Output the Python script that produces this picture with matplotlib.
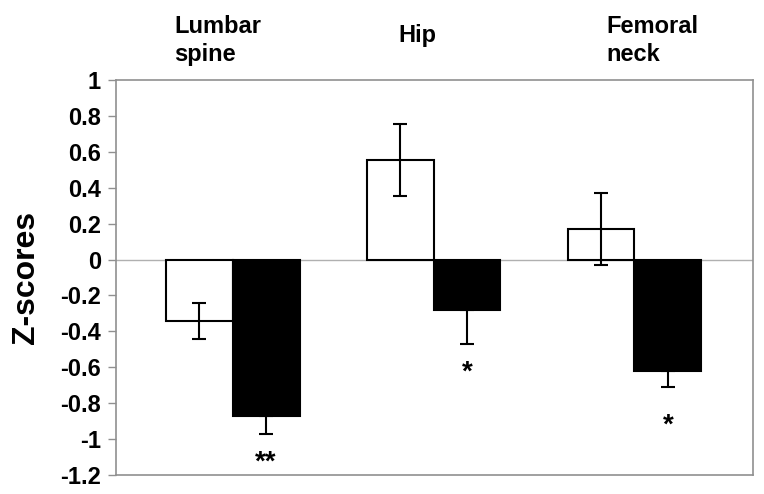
import matplotlib
matplotlib.use("Agg")
import matplotlib.pyplot as plt
import numpy as np

plt.rcParams['font.family'] = ['Liberation Sans', 'DejaVu Sans']

# data
sites = ['Lumbar\nspine', 'Hip', 'Femoral\nneck']
white_vals = [-0.34, 0.555, 0.17]
white_err = [0.10, 0.20, 0.20]
black_vals = [-0.87, -0.28, -0.62]
black_err = [0.10, 0.19, 0.09]
stars = ['**', '*', '*']
star_y = [-1.13, -0.63, -0.925]
yticks = [1, 0.8, 0.6, 0.4, 0.2, 0, -0.2, -0.4, -0.6, -0.8, -1, -1.2]

fig = plt.figure(figsize=(7.64, 4.94), dpi=100)
ax = fig.add_axes([0.152, 0.0385, 0.8336, 0.7995])

x = np.arange(len(sites))
w = 0.333

ax.axhline(0, color='#b0b0b0', lw=1, zorder=1)

ax.bar(x - w / 2, white_vals, w, color='white', edgecolor='black', lw=1.5, zorder=2)
ax.bar(x + w / 2, black_vals, w, color='black', edgecolor='black', lw=1.5, zorder=2)

# white bars: two-sided errors, black bars: lower only
ax.errorbar(x - w / 2, white_vals, yerr=white_err, fmt='none', ecolor='black',
            elinewidth=1.5, capsize=5, capthick=1.5, zorder=3)
ax.errorbar(x + w / 2, black_vals, yerr=[black_err, [0] * 3], fmt='none', ecolor='black',
            elinewidth=1.5, capsize=5, capthick=1.5, zorder=3)

for i, s in enumerate(stars):
    ax.text(x[i] + w / 2, star_y[i], s, ha='center', va='center',
            fontsize=20, fontweight='bold')

label_x = [-0.075, 0.92, 2.09]
label_y = [1.10, 1.114, 1.10]
for i, s in enumerate(sites):
    ax.text(label_x[i], label_y[i], s, ha='center', va='center', multialignment='left',
            fontsize=17, fontweight='bold',
            transform=ax.get_xaxis_transform(), linespacing=1.3)

ax.set_xlim(-0.58, 2.59)
ax.set_ylim(-1.2, 1)
ax.set_yticks(yticks)
ax.set_yticklabels([f'{t:g}' for t in yticks], fontsize=17, fontweight='bold')
ax.set_xticks([])
ax.tick_params(axis='y', direction='out', length=6, color='#909090', width=1, pad=5)

for sp in ax.spines.values():
    sp.set_color('#909090')
    sp.set_linewidth(1.2)

ax.set_ylabel('Z-scores', fontsize=23, fontweight='bold', labelpad=14)

fig.savefig('out.png', dpi=100)
